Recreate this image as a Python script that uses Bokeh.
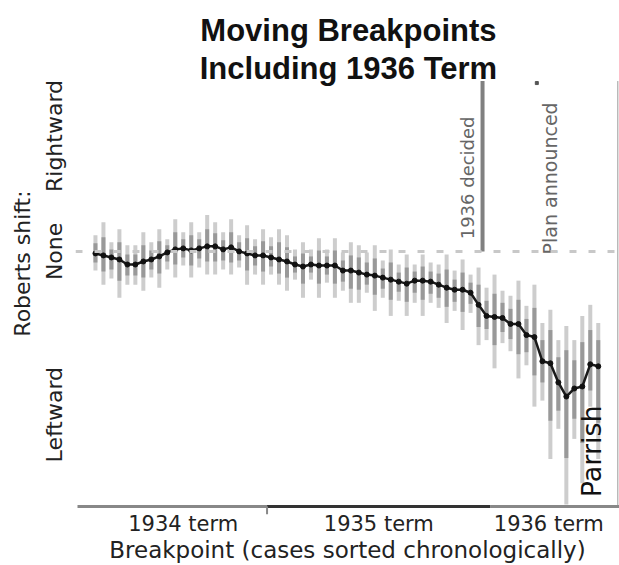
import math
from bokeh.plotting import figure
from bokeh.models import FixedTicker, Range1d, Span
from bokeh.core.properties import value
from bokeh.embed import file_html
from bokeh.resources import INLINE

# ---- data ----
breakpoint_idx = list(range(64))
shift = [-0.02, -0.04, -0.06, -0.08, -0.13, -0.13, -0.10, -0.08, -0.05, -0.01,
         0.02, 0.03, 0.01, 0.03, 0.05, 0.05, 0.02, 0.04, 0.00, -0.02,
         -0.04, -0.04, -0.06, -0.08, -0.10, -0.13, -0.15, -0.13, -0.14, -0.14,
         -0.14, -0.19, -0.19, -0.21, -0.23, -0.24, -0.26, -0.28, -0.30, -0.32,
         -0.29, -0.29, -0.30, -0.33, -0.36, -0.38, -0.38, -0.41, -0.53, -0.64,
         -0.65, -0.66, -0.72, -0.72, -0.83, -0.85, -1.09, -1.11, -1.30, -1.44,
         -1.36, -1.34, -1.12, -1.14]
outer_hi = [0.16, 0.29, 0.09, 0.22, 0.06, 0.06, 0.19, 0.09, 0.22, 0.12,
            0.32, 0.19, 0.29, 0.19, 0.36, 0.29, 0.19, 0.32, 0.16, 0.26,
            0.12, 0.22, 0.14, 0.22, 0.16, 0.02, 0.09, 0.02, 0.13, 0.02,
            0.13, -0.01, 0.09, 0.06, -0.01, 0.06, -0.09, 0.02, -0.13, -0.03,
            -0.13, -0.03, -0.11, -0.13, -0.03, -0.19, -0.08, -0.23, -0.16, -0.36,
            -0.23, -0.39, -0.44, -0.29, -0.54, -0.33, -0.71, -0.58, -0.88, -0.74,
            -0.88, -0.64, -0.53, -0.71]
outer_lo = [-0.19, -0.33, -0.27, -0.46, -0.33, -0.33, -0.39, -0.26, -0.36, -0.18,
            -0.26, -0.14, -0.26, -0.16, -0.23, -0.23, -0.18, -0.23, -0.16, -0.33,
            -0.23, -0.33, -0.23, -0.33, -0.39, -0.28, -0.46, -0.28, -0.46, -0.31,
            -0.46, -0.39, -0.51, -0.51, -0.41, -0.59, -0.46, -0.64, -0.49, -0.64,
            -0.51, -0.64, -0.51, -0.56, -0.71, -0.59, -0.78, -0.61, -0.93, -0.88,
            -1.16, -0.91, -0.99, -1.26, -1.13, -1.54, -1.48, -2.06, -1.76, -2.51,
            -1.86, -2.30, -1.54, -2.06]
inner_hi = [0.08, 0.14, 0.02, 0.09, -0.03, -0.03, 0.06, 0.01, 0.10, 0.06,
            0.19, 0.12, 0.16, 0.12, 0.22, 0.18, 0.11, 0.19, 0.09, 0.13,
            0.05, 0.10, 0.05, 0.09, 0.04, -0.05, -0.02, -0.05, 0.01, -0.05,
            0.01, -0.09, -0.04, -0.06, -0.11, -0.07, -0.17, -0.11, -0.21, -0.16,
            -0.20, -0.15, -0.20, -0.22, -0.18, -0.28, -0.21, -0.31, -0.33, -0.49,
            -0.42, -0.51, -0.57, -0.48, -0.67, -0.56, -0.88, -0.78, -1.05, -0.98,
            -1.08, -0.90, -0.78, -0.88]
inner_lo = [-0.11, -0.20, -0.18, -0.29, -0.24, -0.24, -0.26, -0.18, -0.22, -0.10,
            -0.13, -0.06, -0.14, -0.07, -0.10, -0.10, -0.09, -0.11, -0.09, -0.19,
            -0.14, -0.20, -0.15, -0.22, -0.26, -0.21, -0.32, -0.21, -0.32, -0.23,
            -0.32, -0.30, -0.37, -0.38, -0.33, -0.43, -0.37, -0.48, -0.40, -0.50,
            -0.41, -0.48, -0.42, -0.46, -0.55, -0.50, -0.60, -0.52, -0.75, -0.77,
            -0.93, -0.80, -0.87, -1.02, -1.00, -1.23, -1.30, -1.68, -1.58, -2.05,
            -1.66, -1.90, -1.38, -1.70]

term_labels = ["1934 term", "1935 term", "1936 term"]
term_label_pos = [11.0, 35.5, 56.8]
term_start = [-2.25, 21.5, 49.5]
term_end = [21.5, 49.5, 65.7]
shift_labels = ["Rightward", "None", "Leftward"]
shift_label_pos = [1.145, 0.0, -1.62]
decided_case = 48.5
events = ["1936 decided", "Plan announced"]

FONT = "DejaVu Sans"
Y_LO, Y_HI = -2.61, 2.37
AXIS_Y = -2.53

p = figure(width=619, height=565, output_backend="svg", toolbar_location=None,
           x_range=Range1d(-2.5, 65.66), y_range=Range1d(Y_LO, Y_HI),
           min_border_top=12, min_border_right=0, min_border_left=75, min_border_bottom=0)
p.outline_line_color = None
p.xgrid.visible = False
p.ygrid.visible = False
p.background_fill_color = "white"

# zero reference line
p.add_layout(Span(location=0, dimension="width", line_color="#c8c8c8",
                  line_width=3, line_dash="7 12"))

# event lines
p.segment(x0=[decided_case], y0=[0], x1=[decided_case], y1=[1.69],
          line_color="#808080", line_width=4)
p.segment(x0=[65.45], y0=[AXIS_Y], x1=[65.45], y1=[1.69],
          line_color="#9a9a9a", line_width=1)
p.scatter(x=[55.3], y=[1.67], size=3, marker="square", color="#555555")

# intervals
p.segment(x0=breakpoint_idx, y0=outer_lo, x1=breakpoint_idx, y1=outer_hi,
          line_color="#cdcdcd", line_width=4)
p.segment(x0=breakpoint_idx, y0=inner_lo, x1=breakpoint_idx, y1=inner_hi,
          line_color="#999999", line_width=4)
p.line(breakpoint_idx, shift, line_color="#1a1a1a", line_width=2.5)
p.scatter(breakpoint_idx, shift, size=5, marker="circle", color="#111111")

# term bar along the bottom, with a tick at the 1934/1935 boundary
p.segment(x0=term_start, x1=term_end, y0=[AXIS_Y] * 3, y1=[AXIS_Y] * 3,
          line_color=["#888888", "#333333", "#888888"], line_width=3)
p.segment(x0=[term_end[0]], x1=[term_end[0]], y0=[AXIS_Y], y1=[Y_LO],
          line_color="#888888", line_width=2)

# annotations
p.text(x=[46.6], y=[0.12], text=[events[0]], angle=math.pi / 2,
       text_align="left", text_baseline="middle", text_color="#666666",
       text_font=value(FONT), text_font_size="18px")
p.text(x=[57.0], y=[-0.03], text=[events[1]], angle=math.pi / 2,
       text_align="left", text_baseline="middle", text_color="#666666",
       text_font=value(FONT), text_font_size="19px")
p.text(x=[62.2], y=[-2.44], text=["Parrish"], angle=math.pi / 2,
       text_align="left", text_baseline="middle", text_color="#111111",
       text_font=value(FONT), text_font_size="27px")

# title
p.text(x=[31.7, 31.7], y=[2.19, 1.81], text=["Moving Breakpoints", "Including 1936 Term"],
       text_align="center", text_baseline="alphabetic", text_color="#111111",
       text_font=value("Liberation Sans"), text_font_style="bold", text_font_size="31px")

# x axis
xa = p.xaxis[0]
xa.ticker = FixedTicker(ticks=term_label_pos, minor_ticks=[])
xa.major_label_overrides = {pos: lab for pos, lab in zip(term_label_pos, term_labels)}
xa.axis_line_color = None
xa.major_tick_line_color = None
xa.minor_tick_line_color = None
xa.major_tick_out = 0
xa.major_tick_in = 0
xa.minor_tick_out = 0
xa.minor_tick_in = 0
xa.major_label_standoff = -3
xa.major_label_text_font = FONT
xa.major_label_text_font_size = "21px"
xa.major_label_text_color = "#222222"
xa.axis_label = "Breakpoint (cases sorted chronologically)"
xa.axis_label_standoff = -2
xa.axis_label_text_font = FONT
xa.axis_label_text_font_size = "23px"
xa.axis_label_text_font_style = "normal"
xa.axis_label_text_color = "#222222"

# y axis
ya = p.yaxis[0]
ya.ticker = FixedTicker(ticks=shift_label_pos, minor_ticks=[])
ya.major_label_overrides = {pos: lab for pos, lab in zip(shift_label_pos, shift_labels)}
ya.major_label_orientation = "vertical"
ya.axis_line_color = None
ya.major_tick_line_color = None
ya.minor_tick_line_color = None
ya.major_tick_out = 0
ya.major_tick_in = 0
ya.minor_tick_out = 0
ya.major_label_standoff = 8
ya.major_label_text_font = FONT
ya.major_label_text_font_size = "22px"
ya.major_label_text_color = "#222222"
ya.axis_label = "Roberts shift:"
ya.axis_label_standoff = 5
ya.axis_label_text_font = FONT
ya.axis_label_text_font_size = "22px"
ya.axis_label_text_font_style = "normal"
ya.axis_label_text_color = "#222222"

open("out.html", "w").write(file_html(p, INLINE))
